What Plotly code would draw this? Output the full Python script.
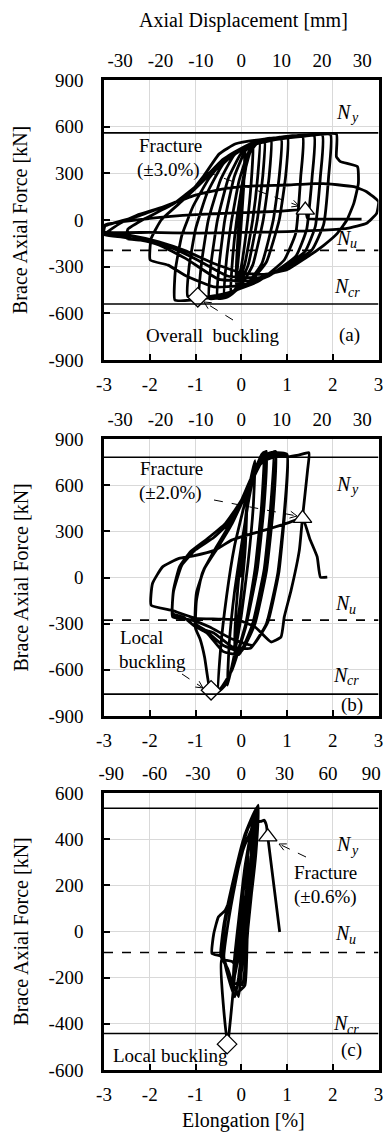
import plotly.graph_objects as go

W, H = 385, 1132
FONT = "Liberation Serif"

# ---------------- data ----------------
X_TICKS = [-3, -2, -1, 0, 1, 2, 3]
X_TICKTEXT = ["-3", "-2", "-1", "0", "1", "2", "3"]
TOP_TICKS_AB = [-30, -20, -10, 0, 10, 20, 30]
TOP_TICKTEXT_AB = ["-30", "-20", "-10", "0", "10", "20", "30"]
TOP_TICKS_C = [-90, -60, -30, 0, 30, 60, 90]
TOP_TICKTEXT_C = ["-90", "-60", "-30", "0", "30", "60", "90"]
Y_TICKS_AB = [-900, -600, -300, 0, 300, 600, 900]
Y_TICKTEXT_AB = ["-900", "-600", "-300", "0", "300", "600", "900"]
Y_TICKS_C = [-600, -400, -200, 0, 200, 400, 600]
Y_TICKTEXT_C = ["-600", "-400", "-200", "0", "200", "400", "600"]

# reference strengths [kN]: Ny, Nu, Ncr
LIMITS_A = [560, -195, -540]
LIMITS_B = [781, -277, -758]
LIMITS_C = [534, -91, -442]

# hysteresis (elongation %, force kN)
CURVE_A = [
    (0, 0), (0.06, 300), (0.08, 430), (0.05, 200), (-0.02, -100), (-0.08, -300), (-0.12, -410), (-0.09, -200), (-0.03, 50),
    (0.08, 300), (0.18, 460), (0.26, 500), (0.22, 250), (0.12, -50), (0.0, -300), (-0.12, -440), (-0.23, -480), (-0.19, -250), (-0.1, 0), (0.05, 280),
    (0.2, 440), (0.40, 510), (0.36, 280), (0.25, 0), (0.08, -280), (-0.12, -450), (-0.37, -500), (-0.33, -280), (-0.22, -20), (-0.05, 250), (0.15, 430),
    (0.35, 500), (0.51, 520), (0.47, 280), (0.35, 0), (0.15, -290), (-0.1, -450), (-0.3, -495), (-0.52, -505), (-0.48, -280), (-0.36, 0), (-0.15, 280), (0.1, 450),
    (0.4, 510), (0.65, 525), (0.61, 280), (0.48, 0), (0.25, -290), (-0.05, -440), (-0.4, -495), (-0.70, -505), (-0.66, -280), (-0.52, 0), (-0.28, 270), (0.0, 430), (0.3, 500),
    (0.87, 530), (0.83, 280), (0.7, 0), (0.45, -280), (0.1, -420), (-0.4, -485), (-0.91, -500), (-0.87, -280), (-0.72, 0), (-0.45, 260), (-0.15, 420), (0.3, 500), (0.6, 520),
    (1.01, 535), (0.97, 280), (0.83, 0), (0.55, -270), (0.15, -410), (-0.4, -480), (-0.95, -497), (-1.17, -490), (-1.14, -300), (-1.0, -60), (-0.75, 170), (-0.4, 360), (0.0, 460), (0.5, 515),
    (1.34, 540), (1.3, 280), (1.19, -86), (0.94, -257), (0.4, -390), (-0.2, -460), (-0.8, -500), (-1.1, -515), (-1.45, -515), (-1.44, -322), (-1.3, -100), (-1.05, 90), (-0.7, 270), (-0.3, 410), (0.2, 490), (0.8, 525),
    (1.59, 545), (1.55, 280), (1.43, -60), (1.2, -230), (0.6, -360), (0.0, -420), (-0.6, -430), (-1.2, -360), (-1.6, -290), (-1.99, -257), (-1.97, -120), (-1.75, 0), (-1.3, 120), (-0.8, 260), (-0.35, 400), (0.2, 480), (0.9, 525),
    (1.77, 548), (1.73, 280), (1.62, -40), (1.4, -200), (0.8, -330), (0.2, -390), (-0.5, -380), (-1.2, -250), (-1.8, -160), (-2.2, -130), (-2.5, -120),
    (-2.48, -60), (-2.1, 10), (-1.5, 100), (-0.9, 240), (-0.4, 390), (0.1, 470), (0.7, 515), (1.4, 540), (1.95, 550), (1.91, 280), (1.8, -30), (1.55, -190), (1.0, -300), (0.4, -370), (-0.3, -360), (-1.0, -250), (-1.6, -170), (-2.2, -130), (-2.6, -110), (-3.0, -95),
    (-2.64, -20), (-2.28, 31), (-1.7, 85), (-1.2, 150), (-0.84, 275), (-0.48, 425), (-0.12, 490), (0.5, 520), (1.3, 540), (2.08, 553), (2.08, 407), (2.17, 375), (2.54, 343), (2.56, 236), (2.46, 107), (2.31, 0), (2.1, -86), (1.81, -161), (1.38, -250), (1.0, -320), (0.5, -350), (0.0, -340), (-0.6, -280), (-1.2, -200), (-1.8, -140), (-2.4, -100), (-3.0, -80),
    (-2.98, -40), (-2.3, 20), (-1.56, 100), (-1.0, 160), (-0.3, 205), (0.3, 220), (1.02, 225), (1.73, 236), (2.46, 214), (2.74, 182), (3.0, 118), (2.96, 43), (2.74, -21), (2.31, -54), (1.81, -65), (1.0, -75), (0.0, -80), (-1.0, -85), (-2.0, -80), (-3.0, -75),
    (-2.97, -30), (-2.0, 10), (-1.0, 35), (0.0, 48), (0.8, 55), (1.40, 64), (1.45, 10), (2.0, 6), (2.63, 6),
]

CURVE_B = [
    (0, 0), (0.06, 250), (0.12, 450), (0.09, 200), (0.0, -100), (-0.1, -350), (-0.15, -450), (-0.11, -200), (-0.04, 50),
    (0.08, 350), (0.18, 600), (0.3, 760), (0.26, 450), (0.15, 100), (0.0, -250), (-0.15, -500), (-0.3, -700), (-0.26, -420), (-0.15, -100), (0.0, 200), (0.15, 480),
    (0.3, 700), (0.45, 800), (0.5, 815), (0.44, 450), (0.3, 50), (0.1, -300), (-0.15, -550), (-0.35, -700), (-0.5, -740), (-0.45, -460), (-0.32, -120), (-0.15, 200), (0.05, 450), (0.25, 680),
    (0.45, 790), (0.55, 820), (0.5, 470), (0.35, 50), (0.1, -320), (-0.2, -600), (-0.45, -720), (-0.66, -755), (-0.74, -640), (-0.8, -520), (-0.9, -400), (-1.0, -330),
    (-0.98, -150), (-0.85, 30), (-0.6, 170), (-0.3, 320), (0.0, 500), (0.3, 700), (0.55, 800), (0.7, 815), (0.64, 450), (0.5, 50), (0.25, -300), (-0.05, -500), (-0.4, -480), (-0.75, -360), (-1.0, -315),
    (-0.98, -120), (-0.82, 50), (-0.55, 190), (-0.25, 340), (0.05, 520), (0.35, 720), (0.6, 800), (0.75, 820), (0.7, 450), (0.55, 40), (0.3, -300), (0.0, -480), (-0.4, -440), (-0.8, -340), (-1.0, -300),
    (-0.98, -100), (-0.8, 60), (-0.5, 200), (-0.2, 350), (0.1, 540), (0.4, 730), (0.75, 810), (1.0, 800), (0.94, 420), (0.8, 30), (0.55, -300), (0.2, -460), (-0.2, -450), (-0.6, -360), (-1.0, -320), (-1.25, -260), (-1.5, -234),
    (-1.48, -80), (-1.35, 70), (-1.1, 170), (-0.75, 250), (-0.35, 350), (0.0, 500), (0.3, 700), (0.65, 800), (1.0, 795), (0.95, 420), (0.82, 30), (0.58, -290), (0.25, -440), (-0.2, -400), (-0.7, -320), (-1.1, -275), (-1.5, -255),
    (-1.48, -90), (-1.3, 80), (-1.0, 180), (-0.6, 260), (-0.25, 360), (0.1, 540), (0.45, 750), (0.8, 790), (1.02, 785), (1.25, 795), (1.48, 811),
    (1.45, 698), (1.34, 394), (1.27, 178), (1.09, -82), (0.94, -256), (0.87, -386), (0.65, -419), (0.3, -321), (-0.06, -277), (-0.5, -270), (-1.0, -265), (-1.5, -215), (-1.97, -180),
    (-1.94, -39), (-1.72, 69), (-1.36, 124), (-1.07, 139), (-0.57, 178), (-0.21, 243), (0.3, 290), (0.65, 320), (1.02, 355), (1.34, 384), (1.5, 250), (1.66, 134), (1.73, 2), (1.88, 2),
]

CURVE_C = [
    (0, 0), (0.05, 150), (0.02, 30), (-0.06, -100), (-0.03, -20),
    (0.05, 180), (0.15, 330), (0.11, 170), (0.0, -30), (-0.12, -170), (-0.18, -220), (-0.14, -100), (-0.05, 60),
    (0.08, 280), (0.25, 470), (0.2, 280), (0.06, 30), (-0.1, -150), (-0.2, -130), (-0.43, -124), (-0.3, -488), (-0.14, -182), (-0.02, 60), (0.12, 300), (0.3, 520),
    (0.25, 320), (0.1, 50), (-0.06, -200), (-0.14, -283), (-0.28, -200), (-0.38, -110), (-0.3, 20), (-0.12, 220), (0.1, 420), (0.37, 547),
    (0.32, 340), (0.16, 60), (0.0, -180), (-0.06, -282), (-0.25, -190), (-0.42, -100), (-0.35, 40), (-0.15, 230), (0.08, 420), (0.33, 535),
    (0.28, 330), (0.14, 40), (0.08, -233), (-0.1, -265), (-0.3, -160), (-0.45, -105), (-0.38, 30), (-0.2, 200), (0.05, 400), (0.35, 530),
    (0.3, 320), (0.15, 20), (0.02, -230), (-0.2, -220), (-0.4, -110), (-0.64, -95), (-0.60, -9), (-0.5, 63), (-0.35, 92), (-0.2, 170), (0.05, 360), (0.3, 470), (0.45, 478), (0.5, 482), (0.55, 460), (0.58, 410), (0.84, -2),
]

# event markers (elongation %, force kN)
BUCKLING_PTS = [(-0.95, -497), (-0.66, -733), (-0.31, -488)]
FRACTURE_PTS = [(1.40, 64), (1.34, 384), (0.58, 410)]

# ---------------- layout geometry (pixels) ----------------
PLOT_L, PLOT_R = 104, 378.5
PANELS = [(80, 360), (439, 716), (793, 1070)]
TOP_RANGES = [34.0, 34.0, 95.0]


def pp(px, py):
    return px / W, 1 - py / H


fig = go.Figure()

curves = [CURVE_A, CURVE_B, CURVE_C]
limits = [LIMITS_A, LIMITS_B, LIMITS_C]
yranges = [(-900, 900), (-900, 900), (-600, 600)]
yticks = [(Y_TICKS_AB, Y_TICKTEXT_AB), (Y_TICKS_AB, Y_TICKTEXT_AB), (Y_TICKS_C, Y_TICKTEXT_C)]
topticks = [(TOP_TICKS_AB, TOP_TICKTEXT_AB), (TOP_TICKS_AB, TOP_TICKTEXT_AB), (TOP_TICKS_C, TOP_TICKTEXT_C)]

tickfont = dict(family=FONT, size=19, color="black")

for i in range(3):
    xb = "x" if i == 0 else f"x{2 * i + 1}"
    xt = f"x{2 * i + 2}"
    ya = "y" if i == 0 else f"y{i + 1}"
    xb_name = "xaxis" if i == 0 else f"xaxis{2 * i + 1}"
    xt_name = f"xaxis{2 * i + 2}"
    ya_name = "yaxis" if i == 0 else f"yaxis{i + 1}"
    top, bot = PANELS[i]
    ydom = [1 - bot / H, 1 - top / H]
    xdom = [PLOT_L / W, PLOT_R / W]

    fig.update_layout({
        xb_name: dict(domain=xdom, anchor=ya, range=[-3, 3], tickvals=X_TICKS, ticktext=X_TICKTEXT,
                      showgrid=True, gridcolor="#d9d9d9", gridwidth=1, zeroline=False,
                      showline=True, linecolor="black", linewidth=2.5, mirror=True,
                      ticks="inside", ticklen=6, tickwidth=1.5, tickcolor="black",
                      tickfont=tickfont, automargin=False, ticklabelstandoff=5,
                      ticklabeloverflow="allow"),
        xt_name: dict(domain=xdom, anchor=ya, overlaying=xb, side="top",
                      range=[-TOP_RANGES[i], TOP_RANGES[i]],
                      tickvals=topticks[i][0], ticktext=topticks[i][1],
                      showgrid=False, zeroline=False, showline=False, ticks="",
                      tickfont=tickfont, automargin=False, ticklabelstandoff=8,
                      ticklabeloverflow="allow"),
        ya_name: dict(domain=ydom, anchor=xb, range=list(yranges[i]),
                      tickvals=yticks[i][0], ticktext=yticks[i][1],
                      showgrid=True, gridcolor="#d9d9d9", gridwidth=1, zeroline=False,
                      showline=True, linecolor="black", linewidth=2.5, mirror=True,
                      ticks="inside", ticklen=6, tickwidth=1.5, tickcolor="black",
                      tickfont=tickfont, automargin=False, ticklabelstandoff=14,
                      ticklabeloverflow="allow"),
    })

    cx = [p[0] for p in curves[i]]
    cy = [p[1] for p in curves[i]]
    fig.add_trace(go.Scatter(x=cx, y=cy, mode="lines", xaxis=xb, yaxis=ya,
                             line=dict(color="black", width=2.8, shape="spline", smoothing=0.4),
                             showlegend=False, hoverinfo="skip"))
    # register the top axis
    fig.add_trace(go.Scatter(x=[], y=[], xaxis=xt, yaxis=ya, showlegend=False, hoverinfo="skip"))

    ny, nu, ncr = limits[i]
    fig.add_shape(type="line", xref=xb, yref=ya, x0=-3, x1=3, y0=ny, y1=ny, line=dict(color="black", width=1.6))
    fig.add_shape(type="line", xref=xb, yref=ya, x0=-3, x1=3, y0=nu, y1=nu, line=dict(color="black", width=1.6, dash="dash"))
    fig.add_shape(type="line", xref=xb, yref=ya, x0=-3, x1=3, y0=ncr, y1=ncr, line=dict(color="black", width=1.6))

    bx, by = BUCKLING_PTS[i]
    fx, fy = FRACTURE_PTS[i]
    fig.add_trace(go.Scatter(x=[bx], y=[by], mode="markers", xaxis=xb, yaxis=ya, cliponaxis=False,
                             marker=dict(symbol="diamond", size=15, color="white", line=dict(color="black", width=1.3)),
                             showlegend=False, hoverinfo="skip"))
    fig.add_trace(go.Scatter(x=[fx], y=[fy], mode="markers", xaxis=xb, yaxis=ya, cliponaxis=False,
                             marker=dict(symbol="triangle-up", size=16, color="white", line=dict(color="black", width=1.3)),
                             showlegend=False, hoverinfo="skip"))

annotations = []


def text(s, px, py, size=19, angle=0, style="normal", anchor="center"):
    x, y = pp(px, py)
    annotations.append(dict(text=s, x=x, y=y, xref="paper", yref="paper", showarrow=False,
                            xanchor=anchor, yanchor="middle", textangle=angle,
                            font=dict(family=FONT, size=size, color="black", style=style)))


def nlabel(sub, px, py):
    # italic N with an italic subscript, drawn as two sized texts
    text("N", px, py, size=20, style="italic", anchor="right")
    text(sub, px - 6, py + 6, size=14, style="italic", anchor="left")


def arrow(x0, y0, x1, y1):
    a0, b0 = pp(x0, y0)
    a1, b1 = pp(x1, y1)
    fig.add_shape(type="line", xref="paper", yref="paper", x0=a0, y0=b0, x1=a1, y1=b1,
                  line=dict(color="black", width=1, dash="dash"))
    dx, dy = x1 - x0, y1 - y0
    n = (dx * dx + dy * dy) ** 0.5
    ux, uy = dx / n, dy / n
    L, Wd = 7, 3.5
    bxp, byp = x1 - ux * L, y1 - uy * L
    p1 = pp(bxp - uy * Wd, byp + ux * Wd)
    p2 = pp(bxp + uy * Wd, byp - ux * Wd)
    path = f"M {a1} {b1} L {p1[0]} {p1[1]} M {a1} {b1} L {p2[0]} {p2[1]}"
    fig.add_shape(type="path", xref="paper", yref="paper", path=path, line=dict(color="black", width=1))


# axis titles
text("Axial Displacement [mm]", 243, 20, size=20)
text("Elongation [%]", 243, 1120, size=20)
for top, bot in PANELS:
    text("Brace Axial Force [kN]", 20, (top + bot) / 2, size=20, angle=-90)

# limit labels
nlabel("y", 354, 112); nlabel("u", 354, 238); nlabel("cr", 352, 286); text("(a)", 349, 335)
nlabel("y", 354, 484); nlabel("u", 353, 603); nlabel("cr", 351, 675); text("(b)", 352, 705)
nlabel("y", 354, 844); nlabel("u", 353, 933); nlabel("cr", 351, 1023); text("(c)", 351, 1050)

# event labels
text("Fracture", 170, 145); text("(±3.0%)", 168, 170)
text("Overall  buckling", 213, 335)
arrow(207, 172, 299, 206)
arrow(233, 320, 204, 302)

text("Fracture", 171, 468); text("(±2.0%)", 170, 493)
text("Local", 141, 637); text("buckling", 152, 661)
arrow(214, 500, 297, 516)
arrow(182, 674, 203, 688)

text("Fracture", 325, 872); text("(±0.6%)", 325, 897)
text("Local buckling", 170, 1055)
arrow(306, 857, 279, 844)

fig.update_layout(width=W, height=H, margin=dict(l=0, r=0, t=0, b=0),
                  paper_bgcolor="white", plot_bgcolor="white", showlegend=False,
                  annotations=annotations, font=dict(family=FONT, color="black"))

fig.write_html("out.html")
